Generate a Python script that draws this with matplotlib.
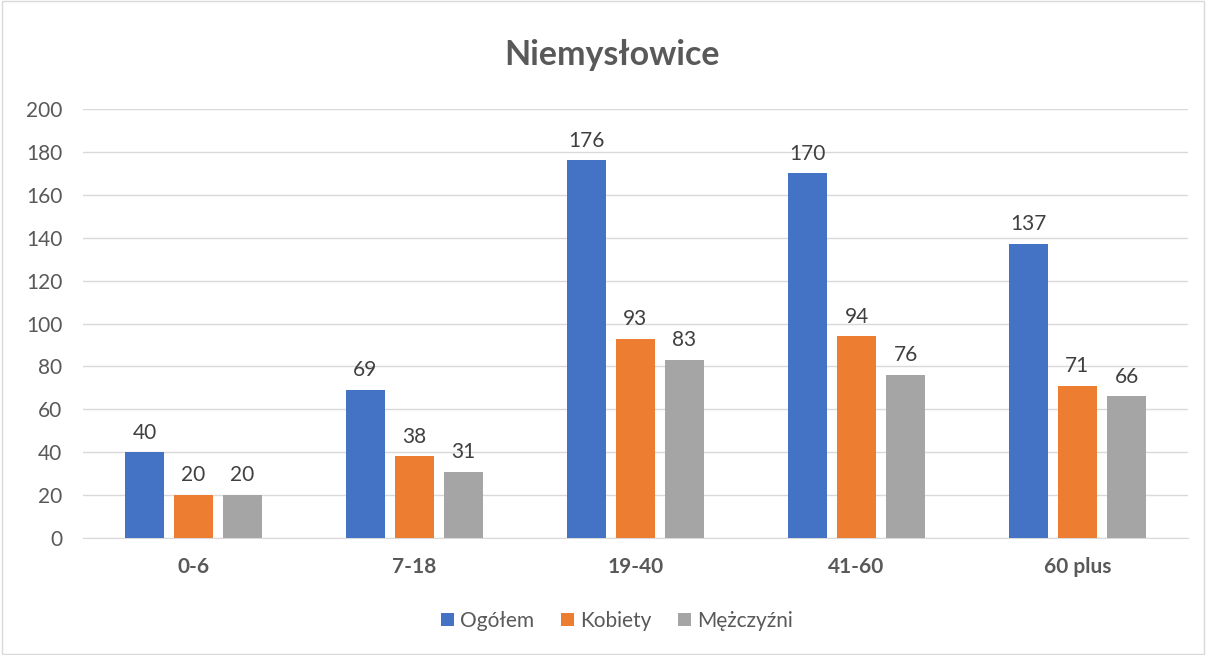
import matplotlib
matplotlib.use("Agg")
import matplotlib.pyplot as plt
import numpy as np

categories = ["0-6", "7-18", "19-40", "41-60", "60 plus"]
ogolem = [40, 69, 176, 170, 137]
kobiety = [20, 38, 93, 94, 71]
mezczyzni = [20, 31, 83, 76, 66]
series_names = ["Ogółem", "Kobiety", "Mężczyźni"]
colors = ["#4472C4", "#ED7D31", "#A5A5A5"]

plt.rcParams['font.family'] = ['Lato', 'DejaVu Sans']
txt = "#595959"

fig = plt.figure(figsize=(12.06, 6.55), dpi=100)
ax = fig.add_axes([83/1206, 1-538/655, (1188-83)/1206, (538-109)/655])

x = np.arange(len(categories))
w = 0.176
off = 0.222
for i, (vals, name, c) in enumerate(zip([ogolem, kobiety, mezczyzni], series_names, colors)):
    pos = x + (i - 1) * off
    ax.bar(pos, vals, width=w, color=c, label=name, zorder=3)
    for p, v in zip(pos, vals):
        ax.text(p, v + 4.5, str(v), ha='center', va='bottom', fontsize=15, color="#404040")

ax.set_xlim(-0.5, len(categories) - 0.5)
ax.set_ylim(0, 200)
ax.set_yticks(range(0, 201, 20))
ax.yaxis.grid(True, color="#D9D9D9", linewidth=1, zorder=0)
ax.set_axisbelow(True)
for s in ["top", "right", "left"]:
    ax.spines[s].set_visible(False)
ax.spines["bottom"].set_color("#D9D9D9")
ax.tick_params(axis='both', length=0, colors=txt, labelsize=15)
ax.tick_params(axis='y', pad=15)
ax.tick_params(axis='x', pad=14)
ax.set_xticks(x)
ax.set_xticklabels(categories, fontweight='bold')

fig.text(612/1206, 1-55/655, "Niemysłowice", ha='center', va='center', fontsize=24.5, fontweight='bold', color=txt)

leg = fig.legend(loc='center', bbox_to_anchor=(617/1206, 1-621/655), ncol=3, frameon=False,
                 fontsize=15, handlelength=0.6, handleheight=0.6, handletextpad=0.3, columnspacing=1.3)
for t in leg.get_texts():
    t.set_color(txt)

fig.patches.append(plt.Rectangle((0.002, 0.002), 0.996, 0.996, transform=fig.transFigure,
                                 fill=False, edgecolor="#D9D9D9", linewidth=1))

fig.savefig("out.png", dpi=100)
